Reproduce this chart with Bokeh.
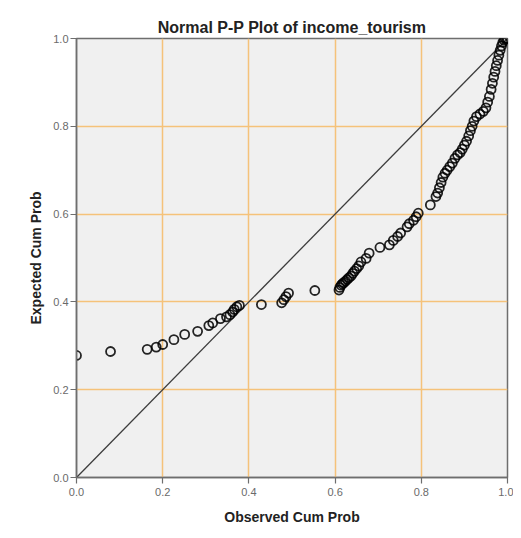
from bokeh.plotting import figure
from bokeh.models import Range1d, FixedTicker, BoxAnnotation
from bokeh.embed import file_html
from bokeh.resources import INLINE

title_text = "Normal P-P Plot of income_tourism"
x_title = "Observed Cum Prob"
y_title = "Expected Cum Prob"
tick_values = [0.0, 0.2, 0.4, 0.6, 0.8, 1.0]
tick_labels = ["0.0", "0.2", "0.4", "0.6", "0.8", "1.0"]

observed = [0.000, 0.079, 0.164, 0.185, 0.200, 0.226, 0.251, 0.281, 0.307, 0.316,
            0.334, 0.348, 0.356, 0.362, 0.366, 0.372, 0.378, 0.429, 0.476, 0.481,
            0.486, 0.492, 0.553, 0.609, 0.611, 0.614, 0.617, 0.620, 0.624, 0.628,
            0.632, 0.637, 0.641, 0.645, 0.650, 0.655, 0.660, 0.672, 0.679, 0.704,
            0.726, 0.735, 0.745, 0.752, 0.767, 0.772, 0.782, 0.788, 0.793, 0.821,
            0.834, 0.838, 0.842, 0.846, 0.850, 0.855, 0.860, 0.866, 0.872, 0.878,
            0.884, 0.890, 0.895, 0.900, 0.905, 0.910, 0.914, 0.918, 0.922, 0.928,
            0.936, 0.944, 0.950, 0.954, 0.958, 0.962, 0.965, 0.968, 0.971, 0.974,
            0.977, 0.980, 0.983, 0.986, 0.989, 0.992, 0.995, 0.998, 1.000]
expected = [0.278, 0.287, 0.292, 0.297, 0.303, 0.314, 0.326, 0.333, 0.346, 0.352,
            0.362, 0.366, 0.371, 0.377, 0.383, 0.389, 0.392, 0.394, 0.398, 0.405,
            0.412, 0.420, 0.426, 0.427, 0.433, 0.438, 0.441, 0.444, 0.447, 0.451,
            0.455, 0.459, 0.465, 0.470, 0.476, 0.482, 0.491, 0.499, 0.511, 0.524,
            0.530, 0.540, 0.549, 0.557, 0.571, 0.578, 0.586, 0.594, 0.602, 0.621,
            0.640, 0.648, 0.660, 0.672, 0.684, 0.693, 0.700, 0.708, 0.716, 0.727,
            0.735, 0.740, 0.748, 0.757, 0.766, 0.778, 0.790, 0.800, 0.812, 0.822,
            0.828, 0.834, 0.842, 0.855, 0.868, 0.884, 0.898, 0.912, 0.925, 0.938,
            0.950, 0.962, 0.973, 0.983, 0.991, 0.996, 0.999, 1.000, 1.000]
diag = [0.0, 1.0]

p = figure(width=513, height=530, output_backend="svg", toolbar_location=None,
           x_range=Range1d(0, 1), y_range=Range1d(0, 1),
           min_border_left=76, min_border_right=6, min_border_top=38,
           min_border_bottom=53, title=title_text)

p.background_fill_color = "#f0f0f0"
p.border_fill_color = "white"
p.outline_line_color = "#6e6e6e"
p.outline_line_width = 1.5

p.title.align = "center"
p.title.text_font = "Liberation Sans"
p.title.text_font_size = "16px"
p.title.text_font_style = "bold"
p.title.text_color = "#222222"
p.title.offset = 0
p.title.standoff = 6

for ax in (p.xaxis[0], p.yaxis[0]):
    ax.ticker = FixedTicker(ticks=tick_values)
    ax.major_label_overrides = {v: s for v, s in zip(tick_values, tick_labels)}
    ax.major_tick_out = 6
    ax.major_tick_in = 0
    ax.minor_tick_line_color = None
    ax.axis_line_color = "#6e6e6e"
    ax.axis_line_width = 1.5
    ax.major_tick_line_color = "#6e6e6e"
    ax.major_tick_line_width = 1.2
    ax.major_label_text_font = "Liberation Sans"
    ax.major_label_text_font_size = "11px"
    ax.major_label_text_color = "#6a6a6a"
    ax.axis_label_text_font = "Liberation Sans"
    ax.axis_label_text_font_size = "14px"
    ax.axis_label_text_font_style = "bold"
    ax.axis_label_text_color = "#222222"

p.xaxis.axis_label = x_title
p.yaxis.axis_label = y_title
p.xaxis.major_label_standoff = 4
p.xaxis.axis_label_standoff = 10
p.yaxis.major_label_standoff = 2
p.yaxis.axis_label_standoff = 6
p.yaxis.major_label_orientation = "horizontal"

p.xgrid.ticker = FixedTicker(ticks=tick_values)
p.ygrid.ticker = FixedTicker(ticks=tick_values)
p.grid.grid_line_color = "#f5c27a"
p.grid.grid_line_width = 1.5
p.grid.grid_line_alpha = 1.0

p.line(diag, diag, line_color="#3c3c3c", line_width=1.3)
p.scatter(observed, expected, marker="circle", size=9, fill_color=None,
          line_color="black", line_width=1.8, line_alpha=0.85)

p.add_layout(BoxAnnotation(left=14, right=517, top=6, bottom=535,
                           left_units="canvas", right_units="canvas",
                           top_units="canvas", bottom_units="canvas",
                           fill_color=None, line_color="#c4c4c4", line_width=2,
                           level="underlay"))

open("out.html", "w").write(file_html(p, INLINE))
